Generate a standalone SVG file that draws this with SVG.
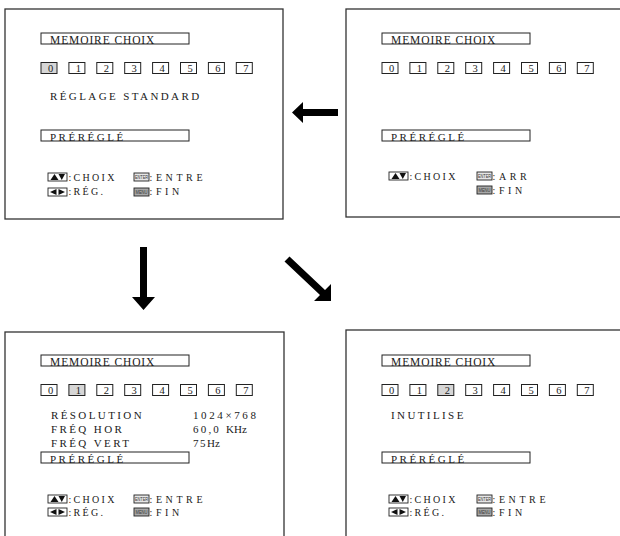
<svg xmlns="http://www.w3.org/2000/svg" width="620" height="536" viewBox="0 0 620 536">
<defs>
<style>
.panel{fill:#fff;stroke:#333;stroke-width:1.3}
.bar{fill:none;stroke:#222;stroke-width:1}
.dig{fill:none;stroke:#222;stroke-width:1}
.sel{fill:#d6d6d6}
.t{font-family:"Liberation Serif","Times New Roman",serif;fill:#1a1a1a}
.ttl{font-size:11.5px;letter-spacing:0.9px}
.lab{font-size:11px;letter-spacing:2.4px}
.num{font-size:10.5px;text-anchor:middle}
.key{font-size:10px;letter-spacing:2.3px}
.ico{fill:#fff;stroke:#222;stroke-width:0.9}
.icog{fill:#a8a8a8;stroke:#222;stroke-width:0.9}
.icol{fill:#e6e6e6;stroke:#222;stroke-width:0.9}
.tiny{font-family:"Liberation Sans",Arial,sans-serif;font-size:4.5px;fill:#333}
.tri{fill:#111}
.arr{fill:#000}
</style>
<g id="hdr">
<rect class="bar" x="41" y="33" width="148" height="11"/>
<text class="t ttl" x="50" y="43.5">MEMOIRE CHOIX</text>
<rect class="bar" x="41" y="130" width="148" height="11"/>
<text class="t lab" x="50" y="140.5" style="letter-spacing:2.5px">PRÉRÉGLÉ</text>
</g>
<g id="digits">
<rect class="dig" x="41" y="62.5" width="16" height="11"/>
<rect class="dig" x="68.9" y="62.5" width="16" height="11"/>
<rect class="dig" x="96.8" y="62.5" width="16" height="11"/>
<rect class="dig" x="124.7" y="62.5" width="16" height="11"/>
<rect class="dig" x="152.6" y="62.5" width="16" height="11"/>
<rect class="dig" x="180.5" y="62.5" width="16" height="11"/>
<rect class="dig" x="208.4" y="62.5" width="16" height="11"/>
<rect class="dig" x="236.3" y="62.5" width="16" height="11"/>
<text class="t num" x="50.5" y="72">0</text>
<text class="t num" x="78.4" y="72">1</text>
<text class="t num" x="106.3" y="72">2</text>
<text class="t num" x="134.2" y="72">3</text>
<text class="t num" x="162.1" y="72">4</text>
<text class="t num" x="190" y="72">5</text>
<text class="t num" x="217.9" y="72">6</text>
<text class="t num" x="245.8" y="72">7</text>
</g>
<g id="updown">
<rect class="ico" x="0" y="0" width="19" height="8"/>
<polygon class="tri" points="2.5,7 6.5,1 10.5,7"/>
<polygon class="tri" points="10.5,1 17,1 13.75,7"/>
</g>
<g id="leftright">
<rect class="ico" x="0" y="0" width="19" height="8"/>
<polygon class="tri" points="2,4 8.5,1 8.5,7"/>
<polygon class="tri" points="10.5,1 10.5,7 17,4"/>
</g>
<g id="enterk">
<rect class="icol" x="0" y="0" width="15" height="8"/>
<text class="tiny" x="1" y="6" textLength="13" lengthAdjust="spacingAndGlyphs">ENTER</text>
</g>
<g id="menuk">
<rect class="icog" x="0" y="0" width="15" height="8"/>
<text class="tiny" x="1.5" y="6" textLength="12" lengthAdjust="spacingAndGlyphs">MENU</text>
</g>
</defs>

<g id="panel-standard">
<rect class="panel" x="5" y="9" width="278" height="210"/>
<rect class="sel" x="41" y="62.5" width="16" height="11"/>
<use href="#hdr"/>
<use href="#digits"/>
<text class="t lab" x="50" y="100">RÉGLAGE STANDARD</text>
<use href="#updown" x="48" y="173"/>
<text class="t key" x="68.5" y="181">:CHOIX</text>
<use href="#enterk" x="134" y="173"/>
<text class="t key" x="149.5" y="181" style="letter-spacing:3.6px">:ENTRE</text>
<use href="#leftright" x="48" y="188"/>
<text class="t key" x="68.5" y="195">:RÉG.</text>
<use href="#menuk" x="134" y="188"/>
<text class="t key" x="149.5" y="195" style="letter-spacing:3.6px">:FIN</text>
</g>

<g id="panel-menu">
<rect class="panel" x="346" y="9" width="280" height="208"/>
<g transform="translate(341,0)">
<use href="#hdr"/>
<use href="#digits"/>
<use href="#updown" x="48" y="172"/>
<text class="t key" x="68.5" y="180">:CHOIX</text>
<use href="#enterk" x="136" y="172"/>
<text class="t key" x="151.5" y="180" style="letter-spacing:3.6px">:ARR</text>
<use href="#menuk" x="136" y="186"/>
<text class="t key" x="151.5" y="194" style="letter-spacing:3.6px">:FIN</text>
</g>
</g>

<g id="panel-preset1">
<rect class="panel" x="5" y="332" width="279" height="210"/>
<g transform="translate(0,322)">
<rect class="sel" x="68.9" y="62.5" width="16" height="11"/>
<use href="#hdr"/>
<use href="#digits"/>
<text class="t lab" x="51" y="97">RÉSOLUTION</text>
<text class="t lab" x="51" y="111">FRÉQ HOR</text>
<text class="t lab" x="51" y="125">FRÉQ VERT</text>
<text class="t lab" x="193" y="97" style="letter-spacing:2.6px">1024×768</text>
<text class="t lab" x="193" y="111" style="letter-spacing:2.2px">60,0 <tspan style="letter-spacing:0">KHz</tspan></text>
<text class="t lab" x="193" y="125" style="letter-spacing:1.5px">75<tspan style="letter-spacing:0">Hz</tspan></text>
<use href="#updown" x="48" y="173"/>
<text class="t key" x="68.5" y="181">:CHOIX</text>
<use href="#enterk" x="134" y="173"/>
<text class="t key" x="149.5" y="181" style="letter-spacing:3.6px">:ENTRE</text>
<use href="#leftright" x="48" y="186"/>
<text class="t key" x="68.5" y="194">:RÉG.</text>
<use href="#menuk" x="134" y="186"/>
<text class="t key" x="149.5" y="194" style="letter-spacing:3.6px">:FIN</text>
</g>
</g>

<g id="panel-preset2">
<rect class="panel" x="346" y="330" width="280" height="212"/>
<g transform="translate(341,322)">
<rect class="sel" x="96.8" y="62.5" width="16" height="11"/>
<use href="#hdr"/>
<use href="#digits"/>
<text class="t lab" x="50" y="97">INUTILISE</text>
<use href="#updown" x="48" y="173"/>
<text class="t key" x="68.5" y="181">:CHOIX</text>
<use href="#enterk" x="136" y="173"/>
<text class="t key" x="151.5" y="181" style="letter-spacing:3.6px">:ENTRE</text>
<use href="#leftright" x="48" y="186"/>
<text class="t key" x="68.5" y="194">:RÉG.</text>
<use href="#menuk" x="136" y="186"/>
<text class="t key" x="151.5" y="194" style="letter-spacing:3.6px">:FIN</text>
</g>
</g>

<g id="connectors">
<polygon class="arr" points="292,112.5 303,102 303,109 338,109 338,116 303,116 303,123"/>
<polygon class="arr" points="140,247 147,247 147,297 155,297 143.5,310 132,297 140,297"/>
<polygon class="arr" points="289.5,256.5 325,290 331,284 331,301 314,301 320,295 284.5,261.5"/>
</g>
</svg>
